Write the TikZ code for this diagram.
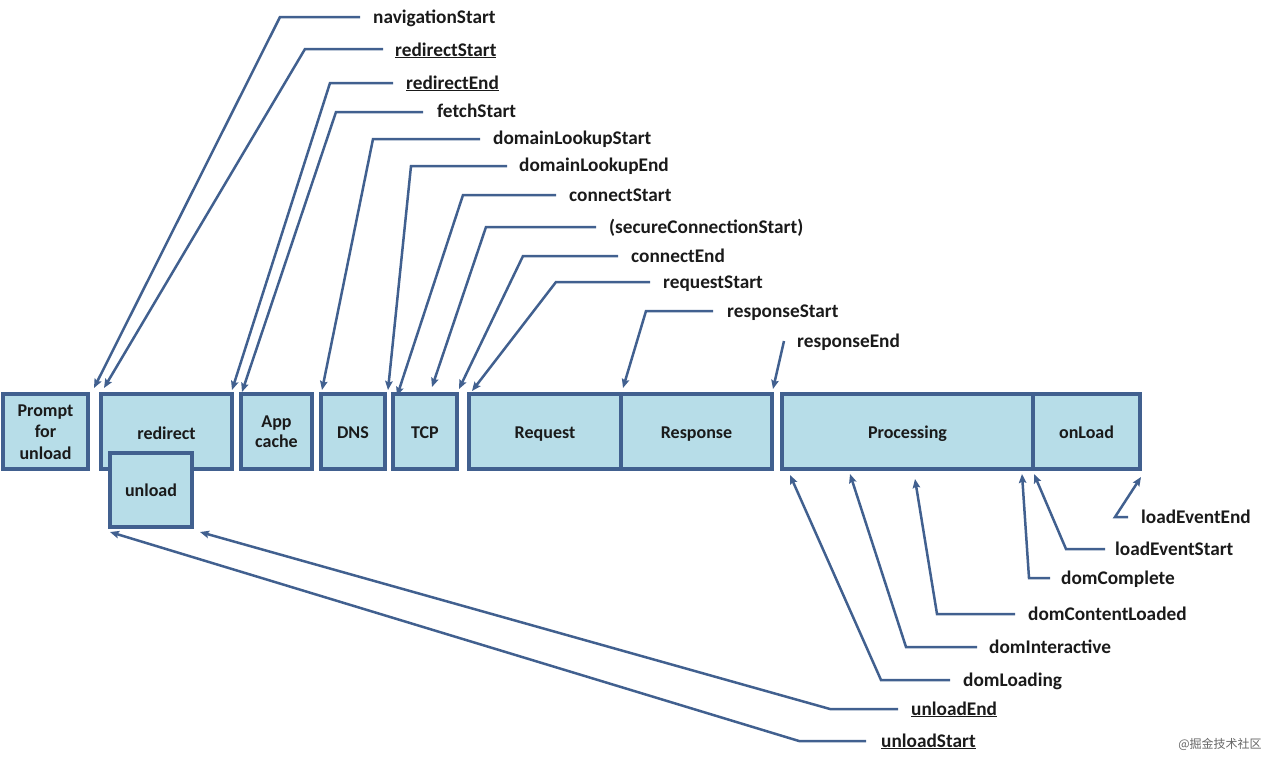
\documentclass[tikz,border=0pt]{standalone}
\usepackage{fontspec}
\setmainfont{Carlito}
\newfontfamily\cjk{Noto Sans CJK SC}
\usetikzlibrary{arrows.meta}
\definecolor{ln}{HTML}{41608F}
\definecolor{bx}{HTML}{B7DDE8}
\definecolor{tx}{HTML}{1A1A1A}
\newcommand\dn[2]{\raisebox{-#1pt}[\height][\depth]{#2}}
\newcommand\stk[1]{\begin{tabular}{@{}c@{}}#1\end{tabular}}
\begin{document}
\begin{tikzpicture}[x=1pt,y=-1pt,
  box/.style={draw=ln, fill=bx, line width=3.4pt, inner sep=0pt, align=center,
    font=\fontsize{18}{21.5}\selectfont\bfseries, text=tx},
  lbl/.style={anchor=base west, inner sep=0pt, font=\fontsize{19.3}{22}\selectfont\bfseries, text=tx},
  lead/.style={draw=ln, line width=2.5pt, line join=miter, -{Stealth[length=9pt,width=7.5pt,inset=1.5pt]}}]
\useasboundingbox (0,0) rectangle (1280,764);

% boxes
\node[box, minimum width=85, minimum height=75] (prompt) at (45.5,431.5) {\dn{2}{\stk{Prompt\\for\\unload}}};
\node[box, minimum width=131, minimum height=75] (redirect) at (166.5,431.5) {\dn{2}{redirect}};
\node[box, minimum width=82, minimum height=74] (unload) at (151,490) {unload};
\node[box, minimum width=71, minimum height=75, font=\fontsize{18}{20.5}\selectfont\bfseries] (appcache) at (276.5,431.5) {\dn{2}{\stk{App\\cache}}};
\node[box, minimum width=64, minimum height=75] (dns) at (353,431.5) {\dn{1}{DNS}};
\node[box, minimum width=64, minimum height=75] (tcp) at (425,431.5) {\dn{1}{TCP}};
\node[box, minimum width=152, minimum height=75] (request) at (545,431.5) {\dn{3}{Request}};
\node[box, minimum width=151, minimum height=75] (response) at (696.5,431.5) {\dn{3}{Response}};
\node[box, minimum width=251, minimum height=75] (processing) at (907.5,431.5) {\dn{2}{Processing}};
\node[box, minimum width=107, minimum height=75] (onload) at (1086.5,431.5) {\dn{1}{onLoad}};

% top labels
\node[lbl] (l1) at (373,23) {navigationStart};
\node[lbl] (l2) at (395,56) {\underline{redirectStart}};
\node[lbl] (l3) at (406,89) {\underline{redirectEnd}};
\node[lbl] (l4) at (437,117) {fetchStart};
\node[lbl] (l5) at (493,144) {domainLookupStart};
\node[lbl] (l6) at (519,171) {domainLookupEnd};
\node[lbl] (l7) at (569,201) {connectStart};
\node[lbl] (l8) at (609,233) {(secureConnectionStart)};
\node[lbl] (l9) at (631,262) {connectEnd};
\node[lbl] (l10) at (663,288) {requestStart};
\node[lbl] (l11) at (727,317) {responseStart};
\node[lbl] (l12) at (797,347) {responseEnd};

\coordinate (c1) at (280,17);  \coordinate (t1) at (94,388);
\coordinate (c2) at (305,49);  \coordinate (t2) at (104,388);
\coordinate (c3) at (330,83);  \coordinate (t3) at (232,390);
\coordinate (c4) at (336,112); \coordinate (t4) at (242,392);
\coordinate (c5) at (373,139); \coordinate (t5) at (322,390);
\coordinate (c6) at (411,166); \coordinate (t6) at (388,390);
\coordinate (c7) at (463,195); \coordinate (t7) at (397,396);
\coordinate (c8) at (486,227); \coordinate (t8) at (432,387);
\coordinate (c9) at (523,256); \coordinate (t9) at (459,389);
\coordinate (c10) at (556,282); \coordinate (t10) at (472,391);
\coordinate (c11) at (646,311); \coordinate (t11) at (623,388);
\coordinate (c12) at (784,341); \coordinate (t12) at (773,389);

\draw[lead] (360,17) coordinate (e1) -- (c1) -- (t1);
\draw[lead] (383,49) coordinate (e2) -- (c2) -- (t2);
\draw[lead] (393,83) coordinate (e3) -- (c3) -- (t3);
\draw[lead] (423,112) coordinate (e4) -- (c4) -- (t4);
\draw[lead] (480,139) coordinate (e5) -- (c5) -- (t5);
\draw[lead] (507,166) coordinate (e6) -- (c6) -- (t6);
\draw[lead] (556,195) coordinate (e7) -- (c7) -- (t7);
\draw[lead] (596,227) coordinate (e8) -- (c8) -- (t8);
\draw[lead] (618,256) coordinate (e9) -- (c9) -- (t9);
\draw[lead] (650,282) coordinate (e10) -- (c10) -- (t10);
\draw[lead] (713,311) coordinate (e11) -- (c11) -- (t11);
\draw[lead] (c12) -- (t12);

% bottom labels
\node[lbl] (b1) at (1141,523) {loadEventEnd};
\node[lbl] (b2) at (1115,555) {loadEventStart};
\node[lbl] (b3) at (1061,584) {domComplete};
\node[lbl] (b4) at (1028,620) {domContentLoaded};
\node[lbl] (b5) at (989,653) {domInteractive};
\node[lbl] (b6) at (963,686) {domLoading};
\node[lbl] (b7) at (911,715) {\underline{unloadEnd}};
\node[lbl] (b8) at (881,747) {\underline{unloadStart}};

\coordinate (d1) at (1115,517); \coordinate (s1) at (1141,477);
\coordinate (d2) at (1066,549); \coordinate (s2) at (1034,474);
\coordinate (d3) at (1029,578); \coordinate (s3) at (1022,474);
\coordinate (d4) at (937,614);  \coordinate (s4) at (915,479);
\coordinate (d5) at (906,647);  \coordinate (s5) at (850,474);
\coordinate (d6) at (881,680);  \coordinate (s6) at (790,475);
\coordinate (d7) at (830,709);  \coordinate (s7) at (200,532);
\coordinate (d8) at (799,741);  \coordinate (s8) at (110,532);

\draw[lead] (1128,517) -- (d1) -- (s1);
\draw[lead] (1105,549) -- (d2) -- (s2);
\draw[lead] (1050,578) -- (d3) -- (s3);
\draw[lead] (1015,614) -- (d4) -- (s4);
\draw[lead] (977,647) -- (d5) -- (s5);
\draw[lead] (950,680) -- (d6) -- (s6);
\draw[lead] (898,709) -- (d7) -- (s7);
\draw[lead] (866,741) -- (d8) -- (s8);

\node[inner sep=0pt, font=\cjk\fontsize{12}{14}\selectfont, text=black!60] (wm) at (1220,744) {@掘金技术社区};
\end{tikzpicture}
\end{document}
